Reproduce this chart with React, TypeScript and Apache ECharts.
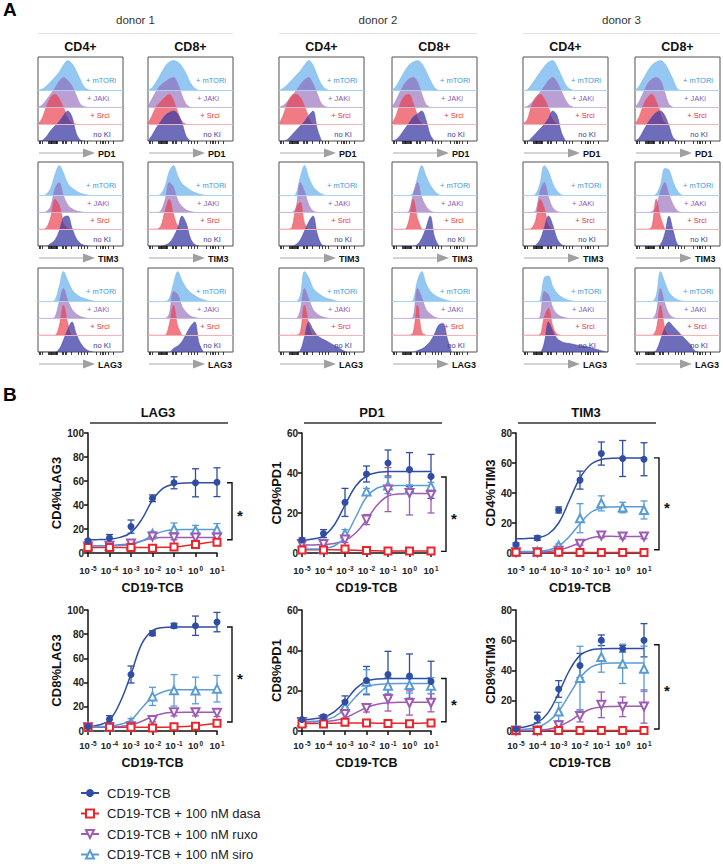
import React, { useEffect, useRef } from 'react';
import * as echarts from 'echarts';

const FONT = '"Liberation Sans", Arial, Helvetica, sans-serif';

// ================= Panel A: flow histograms =================
const DONORS = ['donor 1', 'donor 2', 'donor 3'];
const CELLS = ['CD4+', 'CD8+'];
const MARKERS_A = ['PD1', 'TIM3', 'LAG3'];
const LANES = ['+ mTORi', '+ JAKi', '+ Srci', 'no KI'];
const HIST_STEP = 5; // % of axis between samples
const HIST_TICKS = [1.5, 3.2, 5.5, 12, 13, 14, 15, 16, 17, 18, 19, 20, 21, 22, 23, 28, 30, 31.5, 33, 39.6, 47.5, 51.4, 54, 58, 69, 73, 75, 77, 79, 82.4, 88];

// each panel: rows = + mTORi, + JAKi, + Srci, no KI (mode-normalised %)
const D1_CD4_PD1 = [
  [0, 5, 15, 30, 45, 62, 85, 100, 90, 65, 35, 10, 2, 0],
  [0, 8, 25, 45, 65, 88, 100, 90, 72, 40, 10, 2, 0],
  [0, 20, 60, 90, 100, 85, 55, 25, 5, 0],
  [0, 2, 15, 35, 50, 65, 85, 100, 80, 25, 3, 0],
];
const D1_CD8_PD1 = [
  [0, 10, 30, 55, 80, 95, 100, 95, 80, 55, 25, 8, 0],
  [2, 30, 55, 75, 85, 95, 100, 80, 40, 10, 0],
  [2, 30, 60, 75, 90, 100, 80, 40, 8, 0],
  [0, 20, 45, 65, 85, 95, 100, 90, 60, 15, 0],
];
const D1_CD4_TIM3 = [
  [0, 0, 5, 25, 70, 100, 75, 40, 25, 15, 8, 4, 1, 0],
  [0, 0, 3, 20, 80, 100, 55, 25, 12, 5, 2, 0],
  [0, 0, 5, 40, 100, 80, 25, 5, 0],
  [0, 0, 0, 8, 20, 50, 95, 100, 60, 25, 8, 2, 0],
];
const D1_CD8_TIM3 = [
  [0, 0, 0, 5, 30, 80, 100, 65, 40, 28, 18, 10, 5, 2, 0],
  [0, 0, 0, 5, 40, 100, 85, 40, 20, 8, 3, 0],
  [0, 0, 0, 10, 60, 100, 50, 10, 0],
  [0, 0, 0, 0, 3, 10, 30, 60, 100, 75, 25, 5, 0],
];
const D1_CD4_LAG3 = [
  [0, 0, 0, 0, 5, 50, 100, 70, 40, 25, 15, 10, 5, 2, 0],
  [0, 0, 0, 0, 5, 55, 100, 60, 30, 15, 6, 2, 0],
  [0, 0, 0, 0, 0, 30, 100, 40, 0],
  [0, 0, 0, 0, 0, 10, 40, 75, 100, 60, 30, 12, 3, 0],
];
const D1_CD8_LAG3 = [
  [0, 0, 0, 0, 0, 10, 60, 100, 70, 45, 30, 20, 12, 6, 2, 0],
  [0, 0, 0, 0, 0, 15, 90, 80, 40, 20, 8, 3, 0],
  [0, 0, 0, 0, 0, 35, 100, 30, 0],
  [0, 0, 0, 0, 0, 0, 12, 20, 35, 60, 85, 100, 30, 0],
];
const D2_CD4_PD1 = [
  [0, 8, 20, 35, 50, 65, 85, 100, 85, 50, 20, 5, 0],
  [0, 6, 20, 38, 55, 75, 92, 100, 80, 45, 12, 2, 0],
  [0, 30, 70, 95, 100, 90, 60, 25, 3, 0],
  [0, 0, 5, 20, 35, 50, 65, 85, 100, 40, 0],
];
const D2_CD8_PD1 = [
  [0, 15, 40, 65, 85, 95, 100, 90, 65, 35, 10, 0],
  [0, 25, 55, 80, 95, 100, 85, 45, 10, 0],
  [0, 30, 70, 95, 100, 70, 30, 5, 0],
  [0, 5, 20, 40, 60, 80, 90, 100, 70, 20, 0],
];
const D2_CD4_TIM3 = [
  [0, 0, 0, 0, 5, 60, 100, 60, 30, 15, 5, 0],
  [0, 0, 0, 0, 15, 100, 70, 25, 5, 0],
  [0, 0, 0, 5, 70, 90, 20, 0],
  [0, 0, 0, 0, 5, 20, 50, 80, 100, 40, 5, 0],
];
const D2_CD8_TIM3 = [
  [0, 0, 0, 0, 0, 10, 60, 100, 65, 35, 15, 3, 0],
  [0, 0, 0, 0, 5, 60, 100, 50, 20, 5, 0],
  [0, 0, 0, 0, 30, 100, 35, 0],
  [0, 0, 0, 0, 0, 0, 5, 25, 60, 100, 30, 0],
];
const D2_CD4_LAG3 = [
  [0, 0, 0, 0, 0, 20, 100, 80, 45, 30, 20, 12, 8, 4, 0],
  [0, 0, 0, 0, 0, 25, 100, 65, 30, 15, 6, 2, 0],
  [0, 0, 0, 0, 0, 10, 100, 40, 0],
  [0, 0, 0, 0, 0, 5, 50, 100, 75, 55, 45, 38, 30, 22, 15, 5, 0],
];
const D2_CD8_LAG3 = [
  [0, 0, 0, 0, 0, 5, 70, 100, 60, 35, 22, 14, 8, 4, 0],
  [0, 0, 0, 0, 0, 5, 100, 70, 30, 15, 5, 0],
  [0, 0, 0, 0, 0, 10, 100, 10, 0],
  [0, 0, 0, 0, 0, 0, 5, 10, 20, 35, 60, 90, 95, 45, 0],
];
const D3_CD4_PD1 = [
  [0, 3, 20, 40, 60, 80, 95, 100, 80, 50, 20, 5, 0],
  [0, 3, 15, 30, 50, 70, 90, 100, 85, 55, 25, 6, 0],
  [0, 15, 60, 90, 100, 85, 55, 20, 3, 0],
  [0, 0, 10, 25, 40, 55, 75, 100, 85, 30, 0],
];
const D3_CD8_PD1 = [
  [0, 15, 40, 65, 85, 95, 100, 90, 65, 35, 5, 0],
  [0, 20, 50, 80, 95, 100, 90, 50, 10, 0],
  [0, 25, 65, 90, 100, 75, 40, 8, 0],
  [0, 10, 35, 60, 80, 95, 100, 85, 50, 10, 0],
];
const D3_CD4_TIM3 = [
  [0, 0, 0, 5, 40, 100, 80, 40, 15, 3, 0],
  [0, 0, 0, 5, 70, 100, 50, 15, 3, 0],
  [0, 0, 3, 30, 100, 70, 15, 0],
  [0, 0, 0, 3, 20, 60, 100, 70, 25, 5, 0],
];
const D3_CD8_TIM3 = [
  [0, 0, 0, 0, 0, 5, 35, 90, 85, 45, 15, 2, 0],
  [0, 0, 0, 0, 3, 20, 70, 100, 60, 25, 5, 0],
  [0, 0, 0, 0, 10, 100, 40, 0],
  [0, 0, 0, 0, 0, 0, 5, 40, 100, 50, 5, 0],
];
const D3_CD4_LAG3 = [
  [0, 0, 0, 0, 5, 80, 85, 50, 28, 16, 8, 4, 1, 0],
  [0, 0, 0, 0, 5, 90, 80, 35, 15, 6, 2, 0],
  [0, 0, 0, 0, 2, 60, 90, 30, 3, 0],
  [0, 0, 0, 0, 0, 30, 100, 70, 45, 35, 30, 28, 25, 22, 20, 18, 14, 10, 6, 2, 0],
];
const D3_CD8_LAG3 = [
  [0, 0, 0, 0, 0, 20, 100, 65, 30, 15, 6, 2, 0],
  [0, 0, 0, 0, 0, 20, 100, 50, 15, 3, 0],
  [0, 0, 0, 0, 0, 20, 100, 25, 0],
  [0, 0, 0, 0, 0, 5, 40, 80, 100, 85, 70, 55, 40, 25, 5, 0],
];

const HIST_PANELS = [
  [D1_CD4_PD1, D1_CD8_PD1, D2_CD4_PD1, D2_CD8_PD1, D3_CD4_PD1, D3_CD8_PD1],
  [D1_CD4_TIM3, D1_CD8_TIM3, D2_CD4_TIM3, D2_CD8_TIM3, D3_CD4_TIM3, D3_CD8_TIM3],
  [D1_CD4_LAG3, D1_CD8_LAG3, D2_CD4_LAG3, D2_CD8_LAG3, D3_CD4_LAG3, D3_CD8_LAG3],
];

// ================= Panel B: dose-response =================
const GROUPS = ['CD19-TCB', 'CD19-TCB + 100 nM dasa', 'CD19-TCB + 100 nM ruxo', 'CD19-TCB + 100 nM siro'];
const DOSE_EXP = [-5, -4, -3, -2, -1, 0, 1];
const FIT_EXP = [-5, -4.5, -4, -3.5, -3, -2.5, -2, -1.5, -1, -0.5, 0, 0.5, 1];
const B_TITLES = ['LAG3', 'PD1', 'TIM3'];
const Y_TITLES = ['CD4%LAG3', 'CD4%PD1', 'CD4%TIM3', 'CD8%LAG3', 'CD8%PD1', 'CD8%TIM3'];
const Y_MAX = [100, 60, 80];

const LAG3_CD4_MEAN = [
  [10.2, 12.4, 22, 45.6, 58.5, 58.5, 59],
  [4.5, 4.5, 4.5, 4, 5, 7, 9],
  [5.5, 6, 8, 13.8, 13, 13, 13],
  [6, 6, 6.5, 16, 20, 19, 19.5],
];
const LAG3_CD4_ERR = [
  [1, 3, 5.5, 2.8, 5, 11.7, 12],
  [0.8, 0.8, 0.8, 0.8, 0.8, 1, 1.2],
  [1, 1, 1.5, 2, 2, 2.5, 2],
  [1, 1, 1, 1.5, 5, 4, 5],
];
const LAG3_CD4_FIT = [
  [11, 11.2, 11.5, 13, 17, 28, 44, 54, 57.5, 58.3, 58.5, 58.5, 58.5],
  [4.5, 4.5, 4.5, 4.5, 4.5, 4.6, 4.6, 4.7, 5, 6, 7.2, 8.5, 9.5],
  [6, 6, 6.2, 6.8, 7.8, 10, 12.3, 12.9, 13, 13, 13, 13, 13],
  [6, 6, 6, 6.3, 7, 10, 14.5, 18, 19.3, 19.5, 19.5, 19.5, 19.5],
];
const PD1_CD4_MEAN = [
  [6.5, 9.7, 25.3, 39.5, 45, 41.7, 38.3],
  [1.5, 1.5, 2, 1.2, 1, 1, 1],
  [4.5, 4.5, 6.7, 16.7, 31.7, 30, 29],
  [2, 2, 9.7, 30.8, 33.7, 32, 33.3],
];
const PD1_CD4_ERR = [
  [1, 2, 7, 4, 6.5, 8.5, 11],
  [0.5, 0.5, 0.5, 0.5, 0.5, 0.5, 0.5],
  [1, 1, 1.5, 2.5, 11, 11, 9],
  [0.5, 0.5, 2, 1.5, 4, 2, 2],
];
const PD1_CD4_FIT = [
  [6.2, 7, 8.5, 14, 24, 33.5, 38.5, 40.2, 40.7, 40.8, 40.8, 40.8, 40.8],
  [1.6, 1.6, 1.6, 1.6, 1.5, 1.4, 1.2, 1.1, 1, 1, 1, 1, 1],
  [4, 4, 4.2, 4.8, 6.3, 10, 16.5, 24, 28.5, 29.5, 29.7, 29.8, 29.8],
  [2, 2, 2.3, 3.5, 8, 18, 28, 32.5, 33.6, 33.8, 33.8, 33.8, 33.8],
];
const TIM3_CD4_MEAN = [
  [5.7, 10, 28.7, 48.6, 66.3, 63, 62.5],
  [0.5, 0.5, 0.5, 0.3, 0.3, 0.3, 0.3],
  [0.5, 0.5, 1.5, 6.2, 11.7, 11, 11],
  [1, 1, 5, 23.2, 33.1, 30.3, 28.7],
];
const TIM3_CD4_ERR = [
  [1, 1.5, 2, 6, 7.7, 12, 11],
  [0.5, 0.5, 0.5, 0.5, 0.5, 0.5, 0.5],
  [0.5, 0.5, 0.8, 1, 1.5, 1.5, 1.5],
  [0.5, 0.5, 1, 9.7, 5, 3.5, 6],
];
const TIM3_CD4_FIT = [
  [9.5, 9.7, 10.2, 12.5, 20, 35, 50, 59, 62.3, 63.1, 63.3, 63.3, 63.3],
  [0.4, 0.4, 0.4, 0.4, 0.4, 0.4, 0.4, 0.4, 0.4, 0.4, 0.4, 0.4, 0.4],
  [0.5, 0.5, 0.6, 1, 2, 4, 7, 10, 11.2, 11.1, 11, 11, 11],
  [1, 1, 1.2, 2, 4.5, 11, 19.5, 27, 30, 30.7, 30.8, 30.8, 30.8],
];
const LAG3_CD8_MEAN = [
  [3.5, 9.7, 46.7, 80.8, 87, 87, 90],
  [3, 3, 3, 2.5, 3.5, 4, 6.5],
  [3, 3, 4, 9, 15.5, 15.5, 15],
  [3.5, 3.5, 7.2, 28.6, 33.6, 33.5, 35],
];
const LAG3_CD8_ERR = [
  [1, 3, 7, 2, 2, 8, 8],
  [0.8, 0.8, 0.8, 0.8, 0.8, 0.8, 1],
  [0.8, 0.8, 1, 1.5, 3, 3, 3],
  [0.8, 1, 3, 7.5, 13, 11, 11],
];
const LAG3_CD8_FIT = [
  [3.5, 5, 9, 24, 47, 72, 83, 85.5, 86, 86, 86, 86, 86],
  [3, 3, 3, 3, 3, 3, 3, 3.1, 3.3, 3.7, 4.3, 5.3, 6.5],
  [3, 3, 3.2, 3.7, 5, 8, 12, 14.5, 15.3, 15.5, 15.5, 15.5, 15.5],
  [3.5, 3.6, 4, 5.5, 9, 19, 28, 32.5, 34, 34, 34, 34, 34],
];
const PD1_CD8_MEAN = [
  [5.7, 7, 14.4, 25, 28, 27.2, 24.6],
  [3.5, 3.5, 4.3, 4, 3.7, 3.6, 4],
  [4.5, 5.5, 8.4, 11.4, 15.9, 13.9, 14],
  [4.5, 6, 12, 24.4, 22.5, 22.8, 22.5],
];
const PD1_CD8_ERR = [
  [0.8, 1, 3, 7, 11.5, 11, 10],
  [0.5, 0.5, 0.5, 0.5, 0.5, 0.5, 0.5],
  [0.8, 1, 2, 2, 6, 6, 4.5],
  [0.8, 1, 3, 6, 4, 4, 4],
];
const PD1_CD8_FIT = [
  [5.6, 6, 6.8, 9.5, 14.5, 21, 24.8, 25.8, 26, 26, 26, 26, 26],
  [3.6, 3.7, 3.8, 3.9, 4, 4, 4, 3.9, 3.8, 3.8, 3.8, 3.9, 4],
  [4.5, 4.5, 4.7, 5.2, 6.5, 9, 11.5, 13.3, 14, 14.2, 14.3, 14.3, 14.3],
  [4.6, 4.8, 5.3, 7, 11, 17, 21.8, 23.1, 23.4, 23.5, 23.5, 23.5, 23.5],
];
const TIM3_CD8_MEAN = [
  [1.1, 8.9, 27.8, 43.3, 60, 54.4, 60],
  [0.3, 0.3, 0.3, 0.3, 0.3, 0.3, 0.3],
  [0.3, 0.3, 3.8, 10, 17.3, 16, 16.2],
  [0.5, 0.5, 12.9, 35, 48.9, 44.4, 41.1],
];
const TIM3_CD8_ERR = [
  [0.8, 3.5, 5.5, 8, 3.5, 2.2, 11],
  [0.3, 0.3, 0.3, 0.3, 0.3, 0.3, 0.3],
  [0.3, 0.3, 1.5, 4, 8.5, 6.5, 11],
  [0.5, 0.5, 6, 21, 10, 13, 15],
];
const TIM3_CD8_FIT = [
  [2, 3, 5.5, 12, 25, 40, 50, 53.5, 54.3, 54.5, 54.5, 54.5, 54.5],
  [0.3, 0.3, 0.3, 0.3, 0.3, 0.3, 0.3, 0.3, 0.3, 0.3, 0.3, 0.3, 0.3],
  [0.3, 0.3, 0.5, 1.2, 3, 6.5, 11, 14.5, 15.9, 16.2, 16.3, 16.3, 16.3],
  [0.8, 1.3, 2.5, 6, 13, 24, 35, 42, 44.5, 45, 45, 45, 45],
];
// significance brackets: [top, bottom] in y units, one per plot
const BRACKETS = [[58.5, 11], [38, 0.8], [63.4, 2.2], [86, 7.5], [26, 4.6], [57, 1.3]];

const B_MEAN = [LAG3_CD4_MEAN, PD1_CD4_MEAN, TIM3_CD4_MEAN, LAG3_CD8_MEAN, PD1_CD8_MEAN, TIM3_CD8_MEAN];
const B_ERR = [LAG3_CD4_ERR, PD1_CD4_ERR, TIM3_CD4_ERR, LAG3_CD8_ERR, PD1_CD8_ERR, TIM3_CD8_ERR];
const B_FIT = [LAG3_CD4_FIT, PD1_CD4_FIT, TIM3_CD4_FIT, LAG3_CD8_FIT, PD1_CD8_FIT, TIM3_CD8_FIT];

// ================= styles / layout =================
const COL_X = [38, 148, 279, 392, 523, 635];
const ROW_Y = [57, 162, 268];
const BOX_W = 85;
const BOX_H = 84;
const LANE = 56;
const SPAN = 280;
const LANE_PX = (LANE * BOX_H) / SPAN;
const HIST_FILL = ['rgba(90,170,235,0.65)', 'rgba(140,95,180,0.6)', 'rgba(235,60,75,0.68)', 'rgba(60,60,165,0.75)'];
const HIST_EDGE = ['#78bbec', '#a283c6', '#ea5863', '#4f4fac'];
const BASE_LINE = ['#a9d5f3', '#cdb9e0', '#f5b3b8', 'rgba(0,0,0,0)'];
const LABEL_COLOR = ['#3b98d8', '#8a5cb3', '#e5323b', '#3a3a96'];
const LABEL_DX = [63, 60, 62, 64];
const LABEL_DY = [10, 9, 8.5, 6.5];

const B_LEFT = [88, 302, 516];
const B_WIDTH = [129, 129, 128];
const B_TOP = [433, 610];
const B_HEIGHT = [120, 121];
const X_LABEL_MARGIN = [12, 9];
const X_NAME_GAP = [28, 25];
const Y_NAME_GAP = [25, 17, 19];
const G_COLORS = ['#2f4ea3', '#e8262c', '#9d5bb3', '#5b9bd5'];
const G_SYMBOL = ['circle', 'emptyRect', 'emptyTriangle', 'emptyTriangle'];
const G_ROT = [0, 0, 180, 0];
const G_SIZE = [7, 7, 8, 8];

function txt(text: string, x: number, y: number, o: any = {}) {
  return {
    type: 'text',
    z: 100,
    silent: true,
    style: { text, x, y, fill: '#222', fontFamily: FONT, fontSize: 11, textAlign: 'left', textVerticalAlign: 'middle', ...o },
  };
}

function buildOption() {
  const grid: any[] = [];
  const xAxis: any[] = [];
  const yAxis: any[] = [];
  const series: any[] = [];
  const graphic: any[] = [];

  graphic.push(txt('A', 3, 9, { fontSize: 19, fontWeight: 'bold', fill: '#000' }));
  graphic.push(txt('B', 3, 394, { fontSize: 19, fontWeight: 'bold', fill: '#000' }));

  DONORS.forEach((d, di) => {
    const x0 = COL_X[di * 2];
    const x1 = COL_X[di * 2 + 1] + BOX_W;
    graphic.push(txt(d, (x0 + x1) / 2, 20, { textAlign: 'center', fontSize: 11.5, fill: '#333' }));
    graphic.push({ type: 'line', silent: true, shape: { x1: x0, y1: 33.5, x2: x1, y2: 33.5 }, style: { stroke: '#e2e2e2', lineWidth: 1 } });
  });

  HIST_PANELS.forEach((rowPanels, r) =>
    rowPanels.forEach((panel, c) => {
      const g = grid.length;
      const left = COL_X[c];
      const top = ROW_Y[r];
      grid.push({ left, top, width: BOX_W, height: BOX_H, show: true, borderColor: '#505050', borderWidth: 1, backgroundColor: 'rgba(0,0,0,0)' });
      xAxis.push({
        gridIndex: g, type: 'value', min: 0, max: 100, position: 'bottom',
        axisLine: { show: false, onZero: false }, axisLabel: { show: false }, splitLine: { show: false },
        axisTick: { show: true, customValues: HIST_TICKS, length: 3, lineStyle: { color: '#111', width: 0.8 } },
      });
      panel.forEach((curve, i) => {
        const p = 3 - i;
        const yi = yAxis.length;
        yAxis.push({ gridIndex: g, type: 'value', min: -p * LANE, max: SPAN - p * LANE, show: false, axisLine: { onZero: false } });
        series.push({
          type: 'line', name: `hist-${g}-${i}`, xAxisIndex: g, yAxisIndex: yi, silent: true,
          data: curve.map((v, j) => [j * HIST_STEP, v]),
          smooth: 0.35, symbol: 'none',
          lineStyle: { color: HIST_EDGE[i], width: 0.6 },
          areaStyle: { color: HIST_FILL[i], opacity: 1 },
          markLine: i < 3 ? {
            silent: true, symbol: ['none', 'none'], label: { show: false },
            lineStyle: { color: BASE_LINE[i], width: 1, type: 'solid' },
            data: [{ yAxis: 0 }],
          } : undefined,
        });
      });
      if (r === 0) graphic.push(txt(CELLS[c % 2], left + BOX_W / 2, 47, { textAlign: 'center', fontWeight: 'bold', fontSize: 12.5, fill: '#111' }));
      LANES.forEach((lab, i) => {
        const p = 3 - i;
        graphic.push(txt(lab, left + LABEL_DX[i], top + BOX_H - p * LANE_PX - LABEL_DY[i], { textAlign: 'center', fontSize: 7.5, fill: LABEL_COLOR[i] }));
      });
      const ay = top + BOX_H + 12;
      graphic.push({ type: 'line', silent: true, shape: { x1: left + 1, y1: ay, x2: left + 46, y2: ay }, style: { stroke: '#aaaaaa', lineWidth: 1.2 } });
      graphic.push({ type: 'polygon', silent: true, shape: { points: [[left + 45, ay - 4.5], [left + 57, ay], [left + 45, ay + 4.5]] }, style: { fill: '#a0a0a0' } });
      graphic.push(txt(MARKERS_A[r], left + 60, ay + 0.5, { fontWeight: 'bold', fontSize: 9, fill: '#111' }));
    })
  );

  for (let r = 0; r < 2; r++) {
    for (let c = 0; c < 3; c++) {
      const k = r * 3 + c;
      const g = grid.length;
      const mean = B_MEAN[k];
      const err = B_ERR[k];
      const fit = B_FIT[k];
      grid.push({ left: B_LEFT[c], top: B_TOP[r], width: B_WIDTH[c], height: B_HEIGHT[r] });
      xAxis.push({
        gridIndex: g, type: 'value', min: -5, max: 1, interval: 1, position: 'bottom',
        axisLine: { onZero: false, lineStyle: { color: '#111', width: 1.5 } },
        axisTick: { length: 4, lineStyle: { color: '#111', width: 1.5 } },
        splitLine: { show: false },
        axisLabel: {
          margin: X_LABEL_MARGIN[r],
          formatter: (v: number) => `{b|10}{s|${v}}`,
          rich: {
            b: { fontSize: 9.5, fontWeight: 'bold', color: '#222', fontFamily: FONT },
            s: { fontSize: 6.5, fontWeight: 'bold', color: '#222', fontFamily: FONT, verticalAlign: 'top', padding: [0, 0, 0, 1] },
          },
        },
        name: 'CD19-TCB', nameLocation: 'middle', nameGap: X_NAME_GAP[r],
        nameTextStyle: { fontSize: 12.5, fontWeight: 'bold', color: '#111', fontFamily: FONT },
      });
      const yi = yAxis.length;
      yAxis.push({
        gridIndex: g, type: 'value', min: 0, max: Y_MAX[c], interval: 20, position: 'left',
        axisLine: { show: true, onZero: false, lineStyle: { color: '#111', width: 1.5 } },
        axisTick: { show: true, length: 4, lineStyle: { color: '#111', width: 1.5 } },
        splitLine: { show: false },
        axisLabel: { fontSize: 10, fontWeight: 'bold', color: '#222', fontFamily: FONT, margin: 4 },
        name: Y_TITLES[k], nameLocation: 'middle', nameGap: Y_NAME_GAP[c],
        nameTextStyle: { fontSize: 13, fontWeight: 'bold', color: '#111', fontFamily: FONT },
      });
      const order = [0, 1, 2, 3];
      order.forEach((gi) => {
        series.push({
          type: 'line', name: GROUPS[gi], xAxisIndex: g, yAxisIndex: yi, silent: true,
          data: FIT_EXP.map((x, j) => [x, fit[gi][j]]),
          smooth: 0.4, showSymbol: false, symbol: G_SYMBOL[gi], symbolRotate: G_ROT[gi],
          lineStyle: { color: G_COLORS[gi], width: 1.5 }, itemStyle: { color: G_COLORS[gi] }, z: 3,
        });
      });
      const bars: number[][] = [];
      order.forEach((gi) => DOSE_EXP.forEach((x, j) => bars.push([x, mean[gi][j], err[gi][j], gi])));
      series.push({
        type: 'custom', name: `err-${k}`, xAxisIndex: g, yAxisIndex: yi, silent: true, z: 3, clip: false,
        data: bars,
        renderItem: (params: any, api: any) => {
          const x = api.value(0);
          const m = api.value(1);
          const e = api.value(2);
          const col = G_COLORS[api.value(3)];
          const t = api.coord([x, m + e]);
          const b = api.coord([x, Math.max(0, m - e)]);
          const st = { stroke: col, lineWidth: 1.3 };
          return {
            type: 'group',
            children: [
              { type: 'line', shape: { x1: t[0], y1: t[1], x2: b[0], y2: b[1] }, style: st },
              { type: 'line', shape: { x1: t[0] - 3.5, y1: t[1], x2: t[0] + 3.5, y2: t[1] }, style: st },
              { type: 'line', shape: { x1: b[0] - 3.5, y1: b[1], x2: b[0] + 3.5, y2: b[1] }, style: st },
            ],
          };
        },
      });
      [3, 2, 1, 0].forEach((gi) => {
        series.push({
          type: 'scatter', name: `pts-${k}-${gi}`, xAxisIndex: g, yAxisIndex: yi, silent: true, z: 4,
          data: DOSE_EXP.map((x, j) => [x, mean[gi][j]]),
          symbol: G_SYMBOL[gi], symbolRotate: G_ROT[gi], symbolSize: G_SIZE[gi],
          itemStyle: { color: G_COLORS[gi], opacity: 1 },
        });
      });
      series.push({
        type: 'custom', name: `sig-${k}`, xAxisIndex: g, yAxisIndex: yi, silent: true, z: 5, clip: false,
        data: [[1, BRACKETS[k][0], BRACKETS[k][1]]],
        renderItem: (params: any, api: any) => {
          const a = api.coord([api.value(0), api.value(1)]);
          const b = api.coord([api.value(0), api.value(2)]);
          const x = a[0] + 15;
          return {
            type: 'group',
            children: [
              { type: 'polyline', shape: { points: [[x - 5, a[1]], [x, a[1]], [x, b[1]], [x - 5, b[1]]] }, style: { stroke: '#111', lineWidth: 1.4, fill: null } },
              { type: 'text', style: { text: '*', x: x + 8, y: (a[1] + b[1]) / 2 + 4, fill: '#111', fontSize: 15, fontWeight: 'bold', fontFamily: FONT, textAlign: 'center', textVerticalAlign: 'middle' } },
            ],
          };
        },
      });
      if (r === 0) {
        graphic.push(txt(B_TITLES[c], B_LEFT[c] + 70, 412, { textAlign: 'center', fontWeight: 'bold', fontSize: 13, fill: '#111' }));
        graphic.push({ type: 'line', silent: true, shape: { x1: B_LEFT[c] + 2, y1: 423, x2: B_LEFT[c] + 140, y2: 423 }, style: { stroke: '#333', lineWidth: 1.3 } });
      }
    }
  }

  return {
    animation: false,
    backgroundColor: '#fff',
    grid, xAxis, yAxis, series, graphic,
    legend: {
      data: GROUPS, orient: 'vertical', left: 80, top: 786, height: 90, padding: 0,
      itemWidth: 18, itemHeight: 10, itemGap: 6.5,
      selectedMode: false,
      textStyle: { fontSize: 13, lineHeight: 14, color: '#222', fontFamily: FONT, padding: [0, 0, 0, 3] },
    },
  };
}

export default function App() {
  const ref = useRef<HTMLDivElement>(null);
  useEffect(() => {
    const chart = echarts.init(ref.current!, null, { renderer: 'svg' });
    chart.setOption(buildOption() as any);
    return () => chart.dispose();
  }, []);
  return <div ref={ref} style={{ position: 'absolute', left: 0, top: 0, width: 723, height: 864, background: '#fff' }} />;
}
